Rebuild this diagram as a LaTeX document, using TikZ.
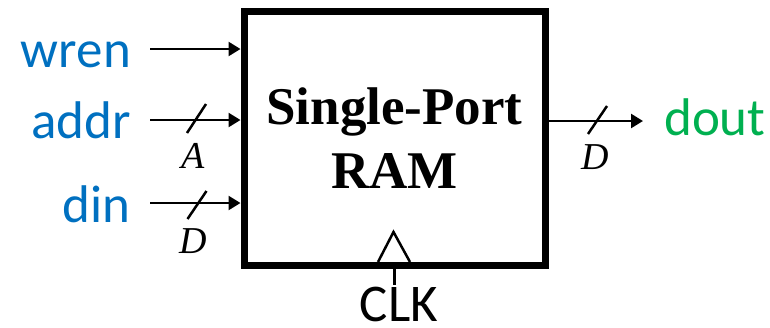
\documentclass[tikz,border=0pt]{standalone}
\usepackage{fontspec}
\setmainfont{Liberation Serif}
\newfontfamily\calib{Carlito}
\usetikzlibrary{arrows.meta}
\definecolor{sigblue}{HTML}{0070C0}
\definecolor{siggreen}{HTML}{00B050}
\begin{document}
\begin{tikzpicture}[x=1pt,y=-1pt,
  sig/.style={inner sep=0pt,font=\calib\fontsize{53}{60}\selectfont},
  bus/.style={inner sep=0pt,font=\itshape\fontsize{38}{40}\selectfont},
  arr/.style={line width=2.5pt,-{Triangle[length=12pt,width=14pt]}},
  slash/.style={line width=2.5pt},
  ramb/.style={draw,line width=7pt,minimum width=301pt,minimum height=254.5pt,inner sep=0pt,align=center,
     font=\bfseries\fontsize{53}{64}\selectfont}]
\useasboundingbox (0,0) rectangle (770,327);
\node[ramb] (ram) at (394.5,138.25) {Single-Port\\RAM};
% inputs
\node[sig,text=sigblue,anchor=base east] (wren) at (131,67) {wren};
\node[sig,text=sigblue,anchor=base east] (addr) at (131,138) {addr};
\node[sig,text=sigblue,anchor=base east] (din) at (131,222) {din};
\coordinate (wrenS) at (150,49);
\coordinate (addrS) at (150,120);
\coordinate (dinS) at (150,203);
\draw[arr] (wrenS) -- (wrenS -| ram.west);
\draw[arr] (addrS) -- (addrS -| ram.west);
\draw[arr] (dinS) -- (dinS -| ram.west);
\draw[slash] (196.5,119) ++(-9.5,14) -- ++(19,-29);
\draw[slash] (197,205) ++(-9.5,14) -- ++(19,-28);
\node[bus,anchor=base] (abus) at (193,168) {A};
\node[bus,anchor=base] (dbus) at (193,253) {D};
% output
\coordinate (doutE) at (643,121);
\draw[arr] (doutE -| ram.east) -- (doutE);
\draw[slash] (597.5,120) ++(-9.5,14) -- ++(19,-28);
\node[bus,anchor=base] (dobus) at (595,169) {D};
\node[sig,text=siggreen,anchor=base west] (dout) at (664,135) {dout};
% clock
\draw[line width=2.5pt,line join=miter] (378,262) -- (393.5,232) -- (410,262);
\coordinate (clkE) at (394.5,285);
\draw[line width=2.5pt] (clkE |- ram.south) -- (clkE);
\node[sig,anchor=base] (clk) at (399,321) {CLK};
\end{tikzpicture}
\end{document}
